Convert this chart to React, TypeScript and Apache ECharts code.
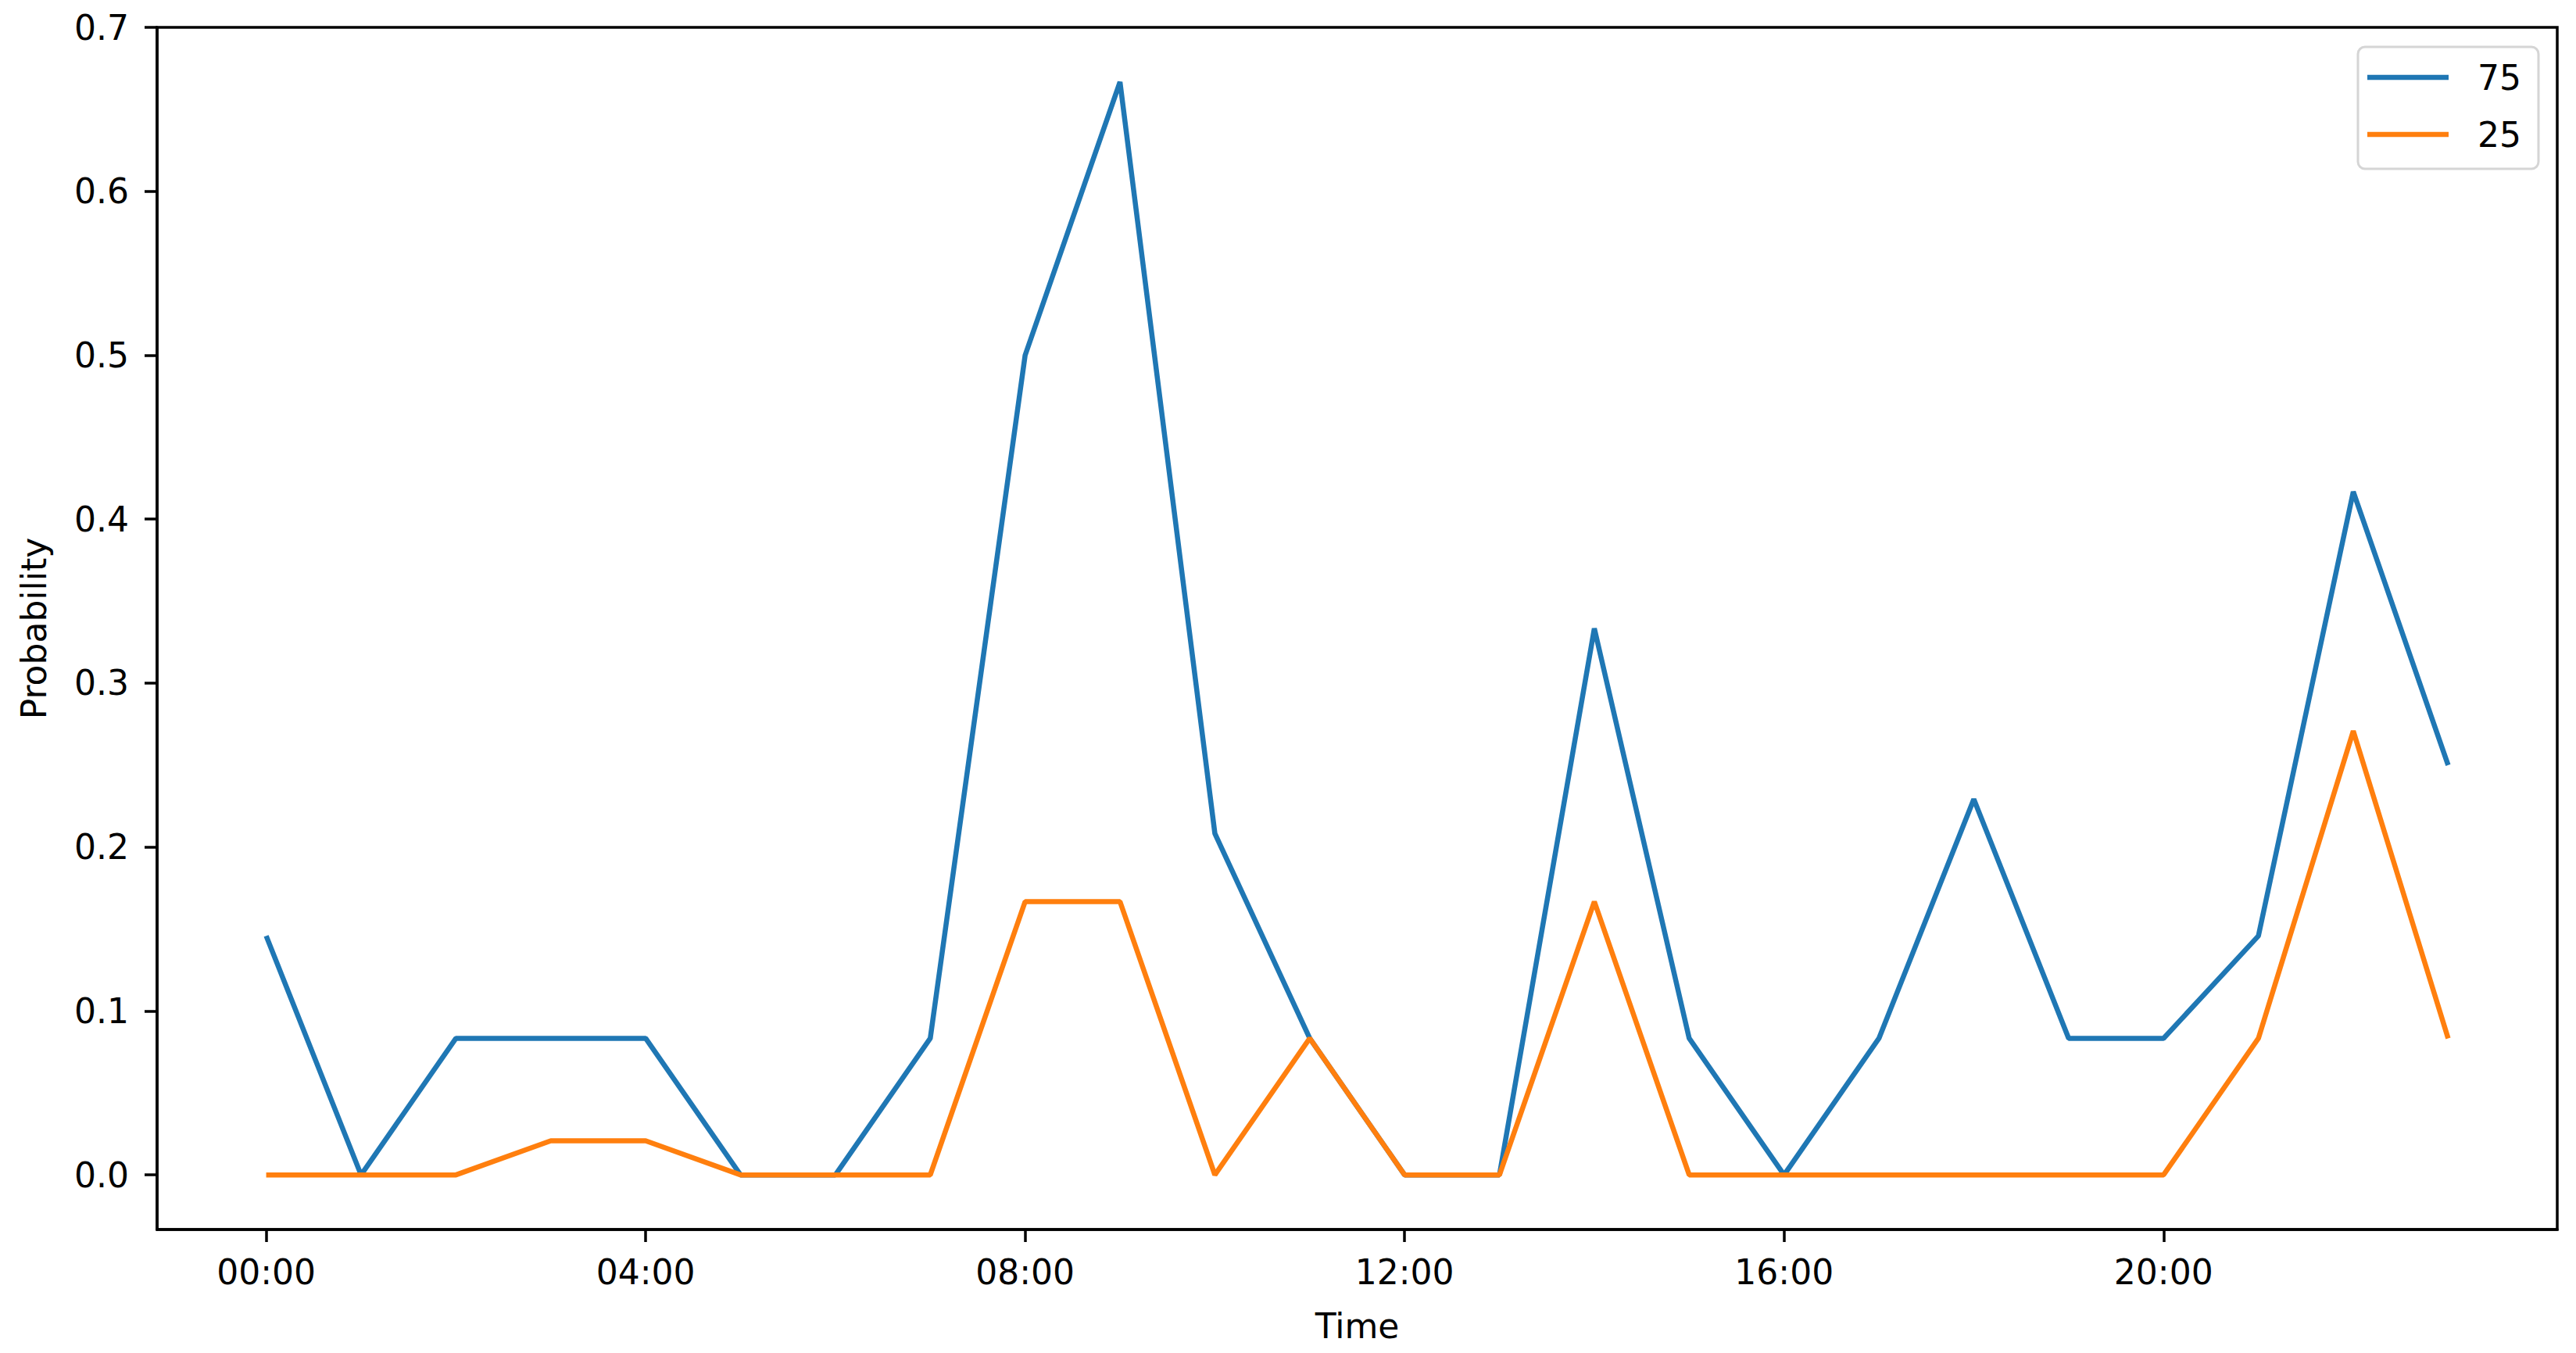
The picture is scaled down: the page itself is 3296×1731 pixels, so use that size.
import React, { useEffect, useRef } from "react";
import * as echarts from "echarts";

const hours = [0, 1, 2, 3, 4, 5, 6, 7, 8, 9, 10, 11, 12, 13, 14, 15, 16, 17, 18, 19, 20, 21, 22, 23];
const series75 = [0.1458, 0, 0.0833, 0.0833, 0.0833, 0, 0, 0.0833, 0.5, 0.6667, 0.2083, 0.0833, 0, 0, 0.3333, 0.0833, 0, 0.0833, 0.2292, 0.0833, 0.0833, 0.1458, 0.4167, 0.25];
const series25 = [0, 0, 0, 0.0208, 0.0208, 0, 0, 0, 0.1667, 0.1667, 0, 0.0833, 0, 0, 0.1667, 0, 0, 0, 0, 0, 0, 0.0833, 0.2708, 0.0833];
const xTicks = [0, 4, 8, 12, 16, 20];
const yTicks = [0, 0.1, 0.2, 0.3, 0.4, 0.5, 0.6, 0.7];
const seriesNames = ["75", "25"];
const colors = ["#1f77b4", "#ff7f0e"];

const FONT = "DejaVu Sans";
const FS = 44;

export default function App() {
  const ref = useRef<HTMLDivElement>(null);
  useEffect(() => {
    document.body.style.margin = "0";
    if (!ref.current) return;
    const chart = echarts.init(ref.current, undefined, { renderer: "svg" });
    const toPairs = (vals: number[]) => hours.map((h, i) => [h, vals[i]]);
    chart.setOption({
      animation: false,
      backgroundColor: "#fff",
      textStyle: { fontFamily: FONT },
      grid: {
        left: 201,
        right: 24,
        top: 35,
        bottom: 158,
        show: true,
        borderColor: "#000",
        borderWidth: 3.5,
        backgroundColor: "transparent",
      },
      legend: {
        show: true,
        orient: "vertical",
        left: 3017,
        top: 60,
        icon: "rect",
        itemWidth: 104,
        itemHeight: 6.5,
        itemGap: 29,
        padding: [17, 22, 22, 12],
        backgroundColor: "rgba(255,255,255,0.8)",
        borderColor: "#d5d5d5",
        borderWidth: 3,
        borderRadius: 9,
        textStyle: {
          fontFamily: FONT,
          fontSize: FS,
          color: "#000",
          lineHeight: 44,
          padding: [0, 0, 0, 32],
        },
        data: seriesNames,
      },
      xAxis: {
        type: "value",
        min: -1.15,
        max: 24.15,
        name: "Time",
        nameLocation: "middle",
        nameGap: 101,
        nameTextStyle: { fontFamily: FONT, fontSize: FS, color: "#000" },
        axisLine: { show: true, onZero: false, lineStyle: { color: "#000", width: 3.5 } },
        splitLine: { show: false },
        axisTick: {
          show: true,
          length: 16,
          customValues: xTicks,
          lineStyle: { color: "#000", width: 3.5 },
        },
        axisLabel: {
          customValues: xTicks,
          margin: 32,
          fontFamily: FONT,
          fontSize: FS,
          color: "#000",
          formatter: (v: number) => `${String(v).padStart(2, "0")}:00`,
        },
      },
      yAxis: {
        type: "value",
        min: -0.0333,
        max: 0.7,
        name: "Probability",
        nameLocation: "middle",
        nameGap: 136,
        nameRotate: 90,
        nameTextStyle: { fontFamily: FONT, fontSize: FS, color: "#000" },
        axisLine: { show: true, onZero: false, lineStyle: { color: "#000", width: 3.5 } },
        splitLine: { show: false },
        axisTick: {
          show: true,
          length: 16,
          customValues: yTicks,
          lineStyle: { color: "#000", width: 3.5 },
        },
        axisLabel: {
          customValues: yTicks,
          margin: 36,
          fontFamily: FONT,
          fontSize: FS,
          color: "#000",
          formatter: (v: number) => v.toFixed(1),
        },
      },
      series: [
        {
          name: seriesNames[0],
          type: "line",
          data: toPairs(series75),
          symbol: "none",
          color: colors[0],
          lineStyle: { color: colors[0], width: 6.5 },
        },
        {
          name: seriesNames[1],
          type: "line",
          data: toPairs(series25),
          symbol: "none",
          color: colors[1],
          lineStyle: { color: colors[1], width: 6.5 },
        },
      ],
    });
    return () => chart.dispose();
  }, []);
  return <div ref={ref} style={{ width: 3296, height: 1731 }} />;
}
